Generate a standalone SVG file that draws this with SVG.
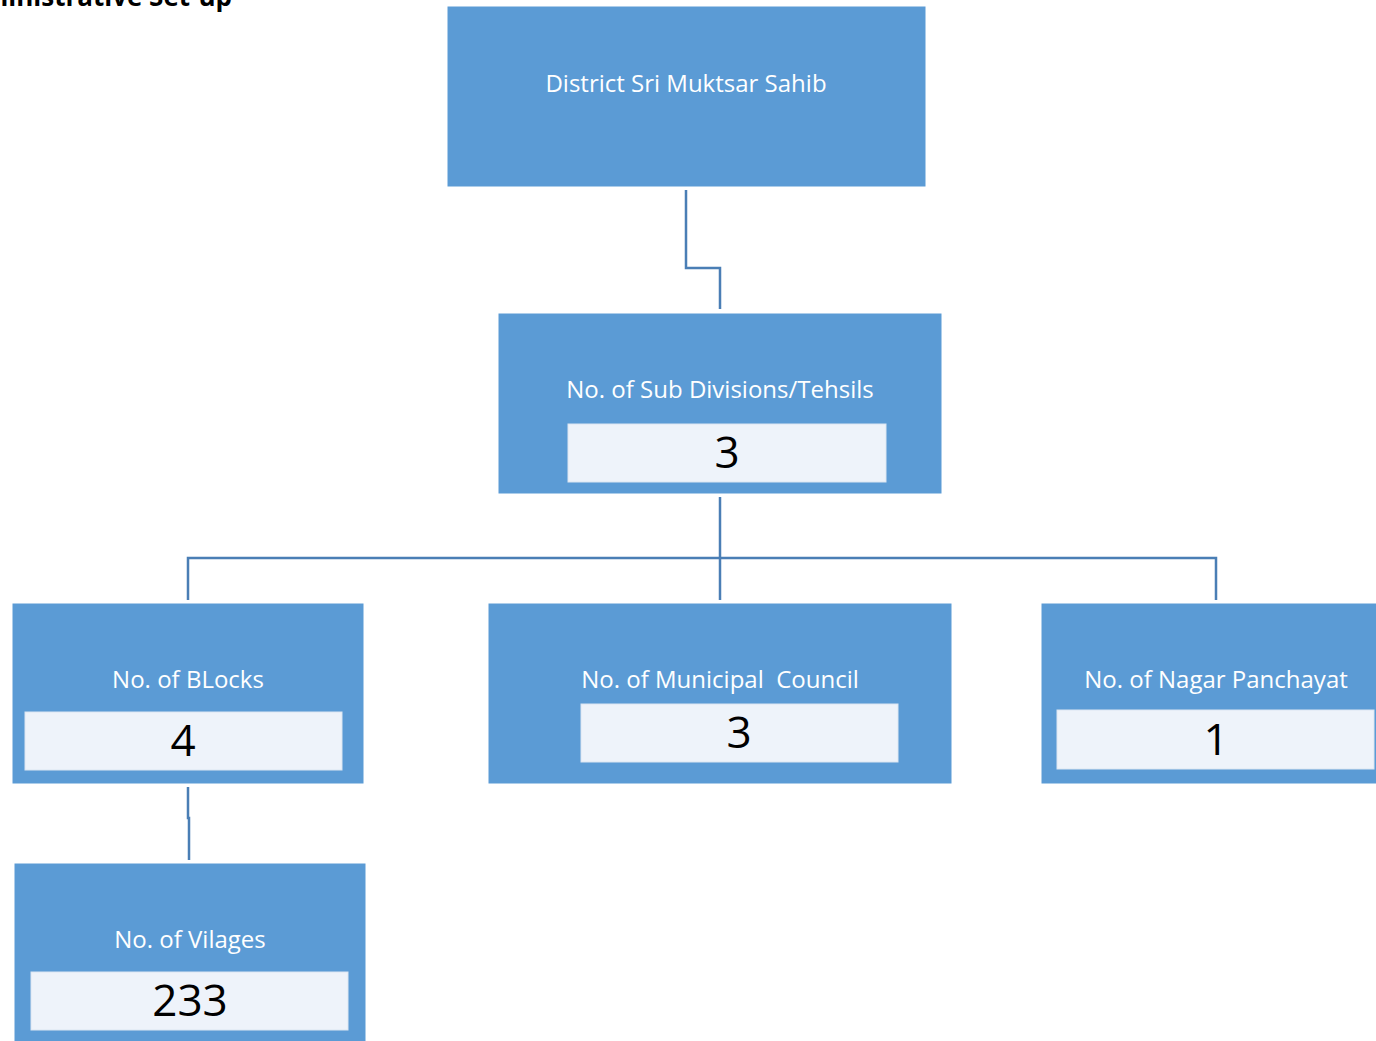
<svg xmlns="http://www.w3.org/2000/svg" width="1376" height="1041" viewBox="0 0 1376 1041">
<style>
.box{fill:#5B9BD5;stroke:#FFFFFF;stroke-width:1}
.inner{fill:#EEF3FA;stroke:#DCE6F2;stroke-width:1}
.lbl{font-family:"Open Sans","Noto Sans",sans-serif;font-size:24px;fill:#FFFFFF;text-anchor:middle}
.num{font-family:"Open Sans","Noto Sans",sans-serif;font-size:44px;fill:#000000;text-anchor:middle}
.conn{fill:none;stroke:#4A7EB5;stroke-width:2.5}
.title{font-family:"Open Sans","Noto Sans",sans-serif;font-size:26px;font-weight:bold;fill:#000000;text-anchor:end}
</style>
<rect width="1376" height="1041" fill="#FFFFFF"/>
<text class="title" x="232" y="6">Administrative Set-up</text>
<g id="connectors">
<path class="conn" d="M686 190 V268 H720 V309"/>
<path class="conn" d="M720 497 V600"/>
<path class="conn" d="M188 600 V558 H1216 V600"/>
<path class="conn" d="M188 787 V818 H189 V860"/>
</g>
<g id="district">
<rect class="box" x="447" y="6" width="479" height="181"/>
<text class="lbl" x="686" y="92">District Sri Muktsar Sahib</text>
</g>
<g id="subdivisions">
<rect class="box" x="498" y="313" width="444" height="181"/>
<text class="lbl" x="720" y="398">No. of Sub Divisions/Tehsils</text>
<rect class="inner" x="568" y="424" width="318" height="58"/>
<text class="num" x="727" y="468">3</text>
</g>
<g id="blocks">
<rect class="box" x="12" y="603" width="352" height="181"/>
<text class="lbl" x="188" y="688">No. of BLocks</text>
<rect class="inner" x="25" y="712" width="317" height="58"/>
<text class="num" x="183" y="756">4</text>
</g>
<g id="municipal">
<rect class="box" x="488" y="603" width="464" height="181"/>
<text class="lbl" x="720" y="688" xml:space="preserve">No. of Municipal  Council</text>
<rect class="inner" x="581" y="704" width="317" height="58"/>
<text class="num" x="739" y="748">3</text>
</g>
<g id="nagar">
<rect class="box" x="1041" y="603" width="340" height="181"/>
<text class="lbl" x="1216" y="688">No. of Nagar Panchayat</text>
<rect class="inner" x="1057" y="710" width="317" height="59"/>
<text class="num" x="1216" y="755">1</text>
</g>
<g id="villages">
<rect class="box" x="14" y="863" width="352" height="185"/>
<text class="lbl" x="190" y="948">No. of Vilages</text>
<rect class="inner" x="31" y="972" width="317" height="58"/>
<text class="num" x="190" y="1016">233</text>
</g>
</svg>
